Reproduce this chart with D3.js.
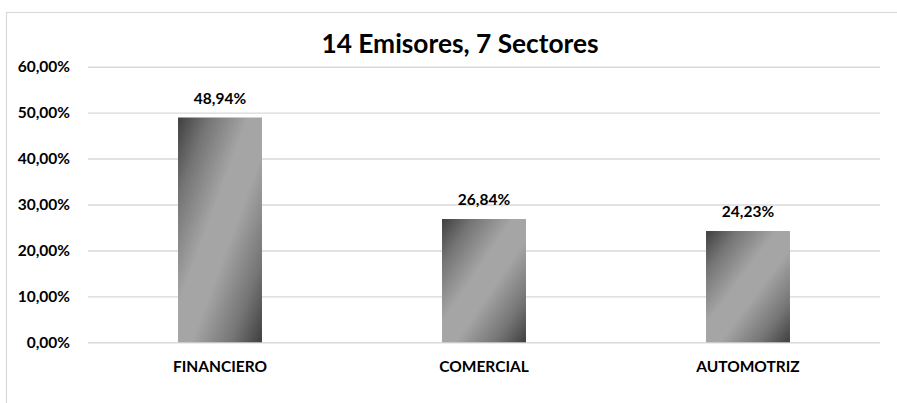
<!DOCTYPE html>
<html>
<head>
<meta charset="utf-8">
<script src="https://cdn.jsdelivr.net/npm/d3@7.9.0/dist/d3.min.js"></script>
<style>
  html, body { margin: 0; padding: 0; background: #fff; }
  svg { display: block; font-family: Lato, "Open Sans", sans-serif; font-weight: bold; }
</style>
</head>
<body>
<svg id="chart" width="897" height="403"></svg>
<script>
const title = '14 Emisores, 7 Sectores';
const sectors = ['FINANCIERO', 'COMERCIAL', 'AUTOMOTRIZ'];
const shares = [0.4894, 0.2684, 0.2423];
const yTicks = [0, 0.1, 0.2, 0.3, 0.4, 0.5, 0.6];

const svg = d3.select('#chart');
const plot = { left: 88, right: 880, top: 66.7, bottom: 342.3 };

const es = d3.formatLocale({ decimal: ',', thousands: '.', grouping: [3], currency: ['', '€'] });
const pct = es.format('.2%');

// chart frame (runs off the right/bottom of the picture)
svg.append('rect')
  .attr('x', 6.5).attr('y', 12.5)
  .attr('width', 910).attr('height', 400)
  .attr('fill', 'none')
  .attr('stroke', '#d9d9d9')
  .attr('stroke-width', 1.2);

// diagonal dark-light-dark fill, like the Excel preset
const defs = svg.append('defs');
const grad = defs.append('linearGradient')
  .attr('id', 'barGrad')
  .attr('x1', 0).attr('y1', 0).attr('x2', 1).attr('y2', 1);
[[0, '#3f3f3f'], [0.18, '#747474'], [0.42, '#a5a5a5'], [0.58, '#a5a5a5'], [0.82, '#747474'], [1, '#3f3f3f']]
  .forEach(([o, c]) => grad.append('stop').attr('offset', o).attr('stop-color', c));

const x = d3.scaleBand()
  .domain(sectors)
  .range([plot.left, plot.right])
  .paddingInner(0.682)
  .paddingOuter(0.341);

const y = d3.scaleLinear()
  .domain([0, 0.6])
  .range([plot.bottom, plot.top]);

// y axis + gridlines
const yAxis = svg.append('g')
  .attr('transform', `translate(${plot.left},0)`)
  .call(d3.axisLeft(y).tickValues(yTicks).tickFormat(pct)
    .tickSize(-(plot.right - plot.left)).tickPadding(18));
yAxis.select('.domain').remove();
yAxis.selectAll('.tick line').attr('stroke', '#d9d9d9').attr('stroke-width', 1.4);
yAxis.selectAll('.tick text')
  .attr('fill', '#000')
  .attr('font-size', 15.5)
  .attr('font-family', 'Lato, sans-serif')
  .attr('font-weight', 'bold');

// bars
svg.append('g').selectAll('rect')
  .data(sectors)
  .join('rect')
  .attr('x', d => x(d))
  .attr('y', (d, i) => y(shares[i]))
  .attr('width', x.bandwidth())
  .attr('height', (d, i) => y(0) - y(shares[i]))
  .attr('fill', 'url(#barGrad)');

// value labels
svg.append('g').selectAll('text')
  .data(sectors)
  .join('text')
  .attr('x', d => x(d) + x.bandwidth() / 2)
  .attr('y', (d, i) => y(shares[i]) - 14)
  .attr('text-anchor', 'middle')
  .attr('font-size', 15.5)
  .attr('fill', '#000')
  .text((d, i) => pct(shares[i]));

// x axis
const xAxis = svg.append('g')
  .attr('transform', `translate(0,${plot.bottom})`)
  .call(d3.axisBottom(x).tickSize(0).tickPadding(19));
xAxis.select('.domain').remove();
xAxis.selectAll('.tick text')
  .attr('fill', '#000')
  .attr('font-size', 15.5)
  .attr('font-family', 'Lato, sans-serif')
  .attr('font-weight', 'bold');

// title
svg.append('text')
  .attr('x', 460)
  .attr('y', 53)
  .attr('text-anchor', 'middle')
  .attr('font-size', 26.3)
  .attr('fill', '#000')
  .text(title);
</script>
</body>
</html>
